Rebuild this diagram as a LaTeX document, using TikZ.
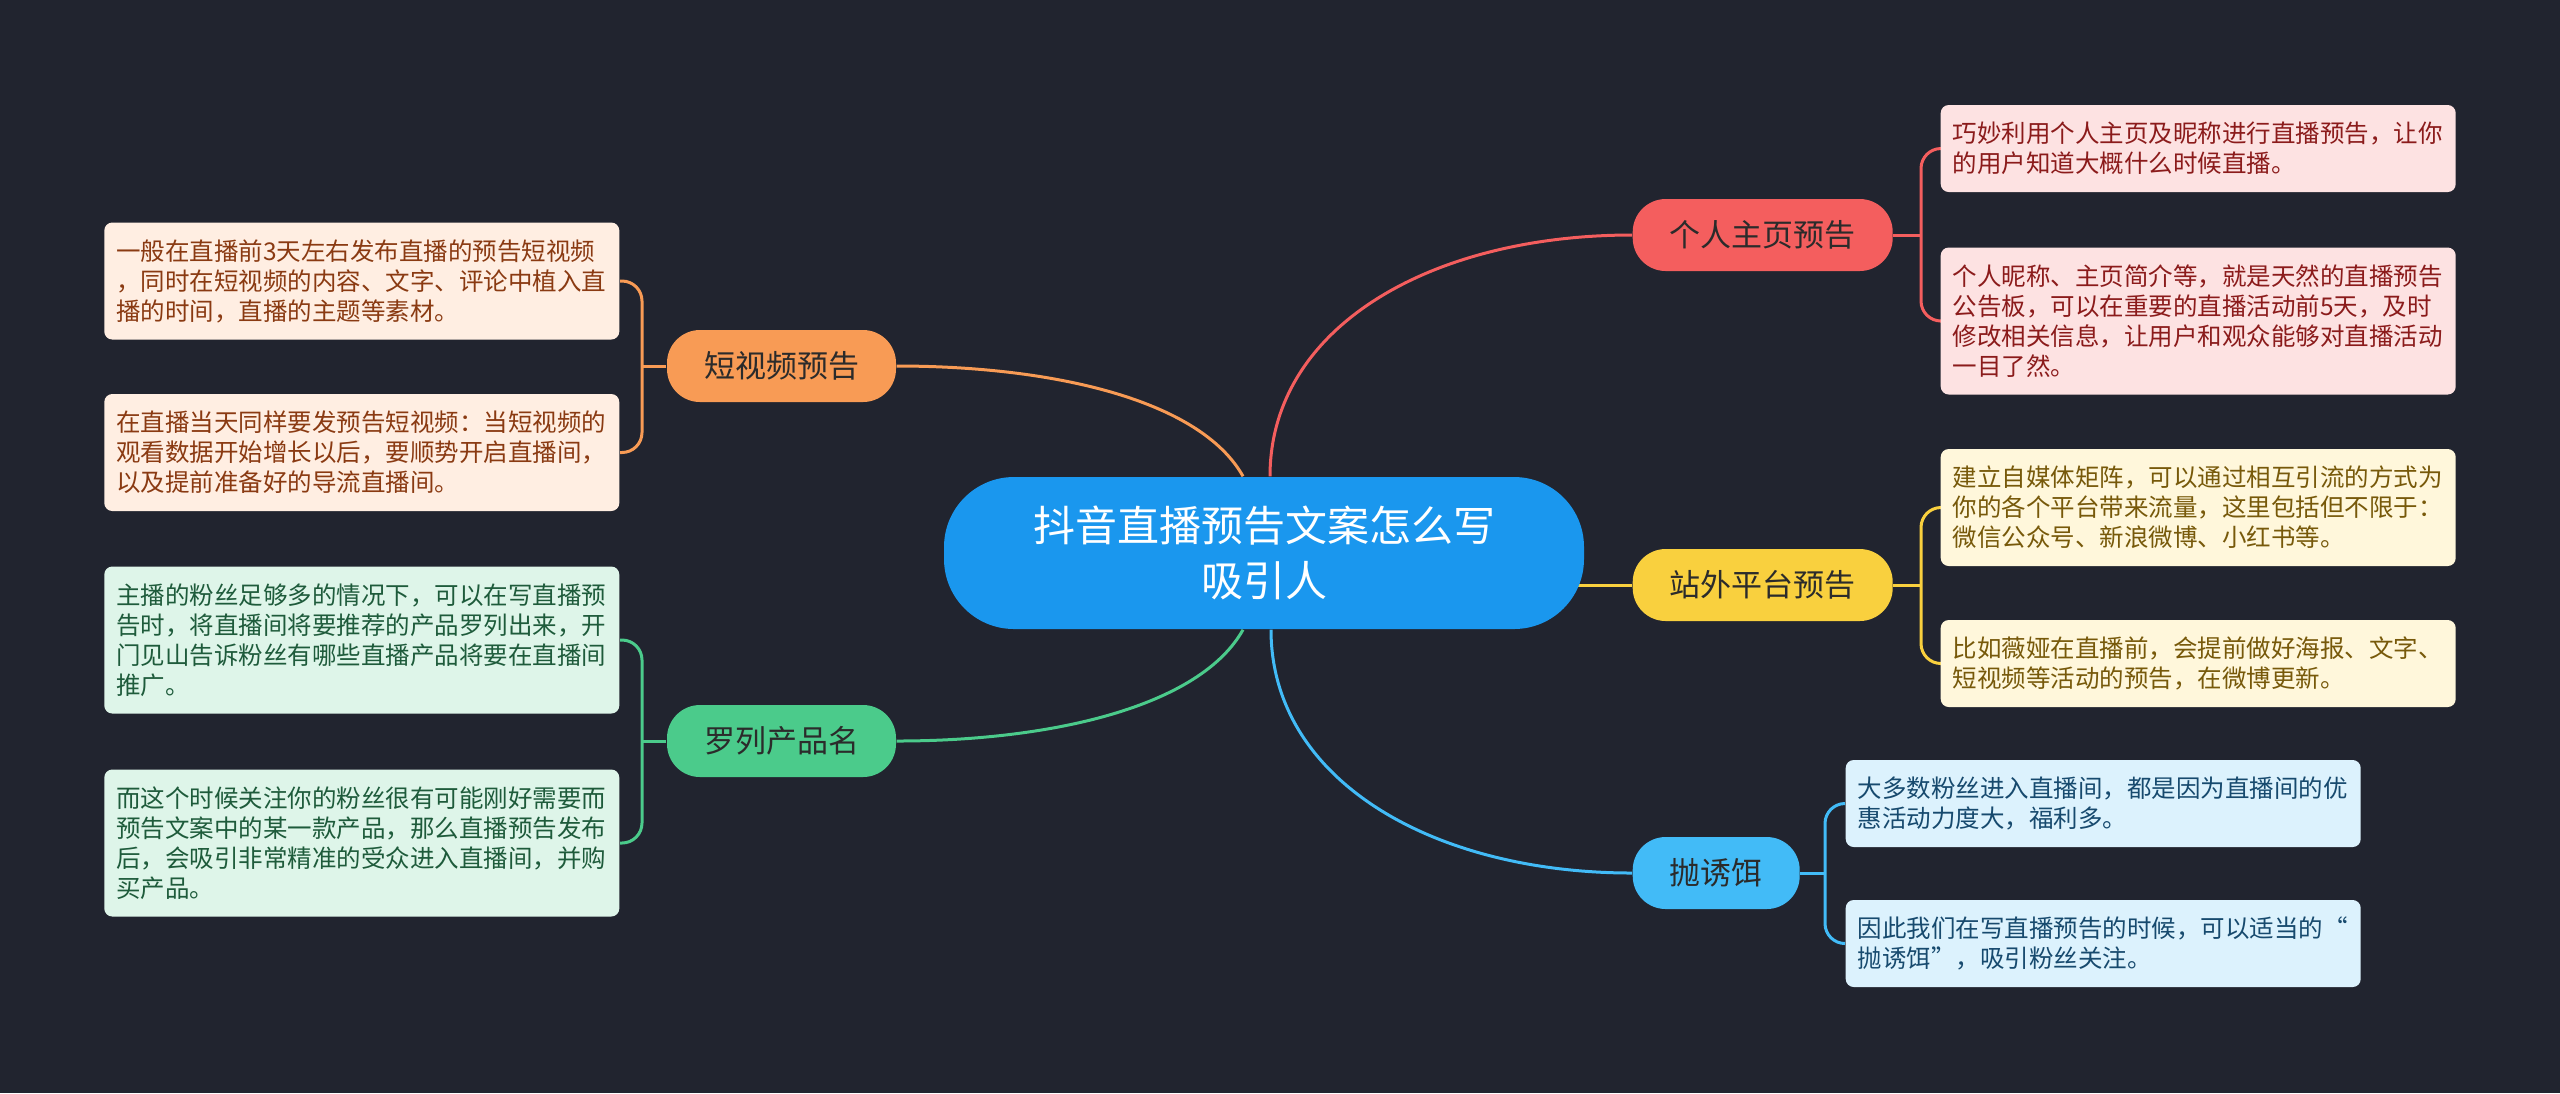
\documentclass[tikz,border=0pt]{standalone}
\usepackage{fontspec}
\newfontfamily\cjk{Noto Sans CJK SC}
\usepackage{tikz}
\usetikzlibrary{positioning, calc, backgrounds}

\definecolor{bgnavy}{HTML}{21242F}
\definecolor{rootblue}{HTML}{1A97EE}
\definecolor{topictext}{HTML}{2B2B2B}
\definecolor{otopic}{HTML}{F89B55}
\definecolor{gtopic}{HTML}{4BCB8B}
\definecolor{rtopic}{HTML}{F45E5E}
\definecolor{ytopic}{HTML}{F9D03E}
\definecolor{btopic}{HTML}{42BBF7}
\definecolor{oleaf}{HTML}{FFEEE2}
\definecolor{gleaf}{HTML}{DEF5E9}
\definecolor{rleaf}{HTML}{FDE2E2}
\definecolor{yleaf}{HTML}{FFF7DB}
\definecolor{bleaf}{HTML}{DCF2FD}
\definecolor{otext}{HTML}{8A3A12}
\definecolor{gtext}{HTML}{1E5B3B}
\definecolor{rtext}{HTML}{8B1B1B}
\definecolor{ytext}{HTML}{77590A}
\definecolor{btext}{HTML}{174A6E}

\begin{document}
\begin{tikzpicture}[
  root/.style={
    rectangle, rounded corners=0.7cm, fill=rootblue,
    minimum width=6.4cm, minimum height=1.52cm,
    align=center, text=white,
    font=\cjk\fontsize{0.42cm}{0.55cm}\selectfont
  },
  topic/.style={
    rectangle, rounded corners=0.33cm,
    minimum height=0.72cm, inner xsep=0.37cm, inner ysep=0pt,
    text=topictext, font=\cjk\fontsize{0.31cm}{0.31cm}\selectfont
  },
  leaf/.style={
    rectangle, rounded corners=0.08cm,
    text width=4.91cm, inner xsep=0.12cm, inner ysep=0pt,
    align=left, font=\cjk\fontsize{0.245cm}{0.30cm}\selectfont
  },
  nlines/.style={minimum height={0.27cm+0.30cm*#1}},
  leafo/.style={leaf, fill=oleaf, text=otext},
  leafg/.style={leaf, fill=gleaf, text=gtext},
  leafr/.style={leaf, fill=rleaf, text=rtext},
  leafy/.style={leaf, fill=yleaf, text=ytext},
  leafb/.style={leaf, fill=bleaf, text=btext},
  link/.style={line width=0.03cm},
  bracket/.style={line width=0.03cm, rounded corners=0.2cm}
]
\useasboundingbox (0,0) rectangle (25.6,-10.93);

\node[root] (c) at (12.64,-5.53) {抖音直播预告文案怎么写\\吸引人};

\node[topic, fill=otopic] (mo) at (7.815,-3.66) {短视频预告};
\node[topic, fill=gtopic] (mg) at (7.815,-7.41) {罗列产品名};
\node[topic, fill=rtopic, anchor=west] (mr) at (16.32,-2.35) {个人主页预告};
\node[topic, fill=ytopic, anchor=west] (my) at (16.32,-5.85) {站外平台预告};
\node[topic, fill=btopic, anchor=west] (mb) at (16.32,-8.73) {抛诱饵};

% left leaves
\node[leafo, nlines=3, anchor=east] (o1) at (6.20,-2.81) {一般在直播前3天左右发布直播的预告短视频\\，同时在短视频的内容、文字、评论中植入直\\播的时间，直播的主题等素材。};
\node[leafo, nlines=3, anchor=east] (o2) at (6.20,-4.525) {在直播当天同样要发预告短视频：当短视频的\\观看数据开始增长以后，要顺势开启直播间，\\以及提前准备好的导流直播间。};
\node[leafg, nlines=4, anchor=east] (g1) at (6.20,-6.40) {主播的粉丝足够多的情况下，可以在写直播预\\告时，将直播间将要推荐的产品罗列出来，开\\门见山告诉粉丝有哪些直播产品将要在直播间\\推广。};
\node[leafg, nlines=4, anchor=east] (g2) at (6.20,-8.43) {而这个时候关注你的粉丝很有可能刚好需要而\\预告文案中的某一款产品，那么直播预告发布\\后，会吸引非常精准的受众进入直播间，并购\\买产品。};

% right leaves
\node[leafr, nlines=2, anchor=west] (r1) at (19.40,-1.485) {巧妙利用个人主页及昵称进行直播预告，让你\\的用户知道大概什么时候直播。};
\node[leafr, nlines=4, anchor=west] (r2) at (19.40,-3.21) {个人昵称、主页简介等，就是天然的直播预告\\公告板，可以在重要的直播活动前5天，及时\\修改相关信息，让用户和观众能够对直播活动\\一目了然。};
\node[leafy, nlines=3, anchor=west] (y1) at (19.40,-5.075) {建立自媒体矩阵，可以通过相互引流的方式为\\你的各个平台带来流量，这里包括但不限于：\\微信公众号、新浪微博、小红书等。};
\node[leafy, nlines=2, anchor=west] (y2) at (19.40,-6.635) {比如薇娅在直播前，会提前做好海报、文字、\\短视频等活动的预告，在微博更新。};
\node[leafb, nlines=2, anchor=west] (b1) at (18.45,-8.035) {大多数粉丝进入直播间，都是因为直播间的优\\惠活动力度大，福利多。};
\node[leafb, nlines=2, anchor=west] (b2) at (18.45,-9.435) {因此我们在写直播预告的时候，可以适当的“\\抛诱饵”，吸引粉丝关注。};

\coordinate (os) at ($(c.north)+(-0.21,0)$);
\coordinate (rs) at ($(c.north)+(0.06,0)$);
\coordinate (gs) at ($(c.south)+(-0.21,0)$);
\coordinate (bs) at ($(c.south)+(0.07,0)$);
\coordinate (ok) at ($(o1.east |- mo.west)+(0.22,0)$);
\coordinate (gk) at ($(g1.east |- mg.west)+(0.22,0)$);
\coordinate (rk) at ($(r1.west |- mr.east)+(-0.19,0)$);
\coordinate (yk) at ($(y1.west |- my.east)+(-0.19,0)$);
\coordinate (bk) at ($(b1.west |- mb.east)+(-0.20,0)$);

\begin{scope}[on background layer]
\fill[bgnavy] (0,0) rectangle (25.6,-10.93);

\draw[link, draw=otopic] (os) .. controls +(-0.43,0.77) and +(1.55,0) .. (mo.east);
\draw[link, draw=gtopic] (gs) .. controls +(-0.43,-0.77) and +(1.55,0) .. (mg.east);
\draw[link, draw=rtopic] (rs) .. controls +(0,1.5) and +(-2.0,0) .. (mr.west);
\draw[link, draw=btopic] (bs) .. controls +(0,-1.5) and +(-2.0,0) .. (mb.west);
\draw[link, draw=ytopic] (my.west -| c.center) -- (my.west);

\draw[link, draw=otopic] (mo.west) -- (ok);
\draw[bracket, draw=otopic] (o1.east) -| (ok) |- (o2.east);
\draw[link, draw=gtopic] (mg.west) -- (gk);
\draw[bracket, draw=gtopic] (g1.east) -| (gk) |- (g2.east);
\draw[link, draw=rtopic] (mr.east) -- (rk);
\draw[bracket, draw=rtopic] (r1.west) -| (rk) |- (r2.west);
\draw[link, draw=ytopic] (my.east) -- (yk);
\draw[bracket, draw=ytopic] (y1.west) -| (yk) |- (y2.west);
\draw[link, draw=btopic] (mb.east) -- (bk);
\draw[bracket, draw=btopic] (b1.west) -| (bk) |- (b2.west);
\end{scope}
\end{tikzpicture}
\end{document}
